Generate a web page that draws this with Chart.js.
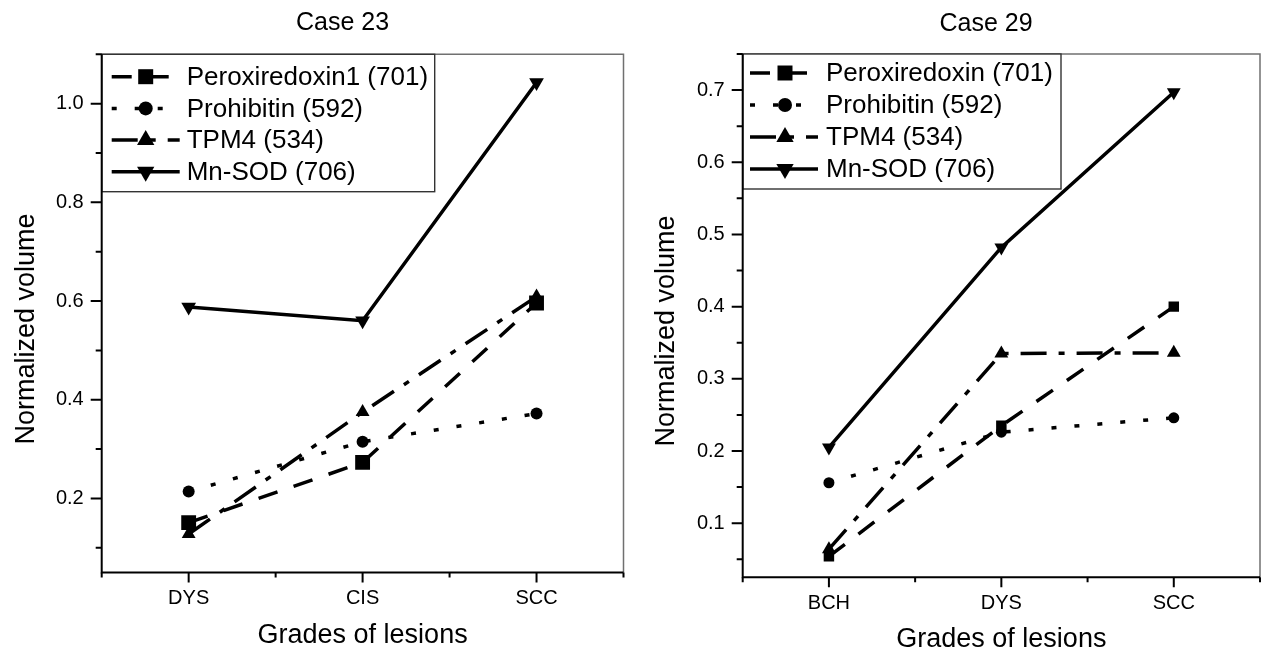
<!DOCTYPE html>
<html>
<head>
<meta charset="utf-8">
<script src="https://cdn.jsdelivr.net/npm/chart.js@4.4.0/dist/chart.umd.min.js"></script>
<style>
    html, body { margin: 0; padding: 0; background: #fff; overflow: hidden; }
    #wrap { position: relative; width: 1268px; height: 663px; }
    .panel { position: absolute; top: 0; width: 634px; height: 663px; }
    #left { left: 0; }
    #right { left: 634px; }
</style>
</head>
<body>
<div id="wrap">
    <div class="panel" id="left"><canvas id="case23"></canvas></div>
    <div class="panel" id="right"><canvas id="case29"></canvas></div>
</div>
<script>
var FONT = '"Liberation Sans", Arial, Helvetica, sans-serif';

// Case 23
var grades23 = ['DYS', 'CIS', 'SCC'];
var names23 = ['Peroxiredoxin1 (701)', 'Prohibitin (592)', 'TPM4 (534)', 'Mn-SOD (706)'];
var perox23 = [0.151, 0.273, 0.596];
var prohib23 = [0.214, 0.315, 0.372];
var tpm23 = [0.128, 0.375, 0.609];
var mnsod23 = [0.588, 0.560, 1.043];
var yMajor23 = [0.2, 0.4, 0.6, 0.8, 1.0];
var yMinor23 = [0.1, 0.3, 0.5, 0.7, 0.9, 1.1];

// Case 29
var grades29 = ['BCH', 'DYS', 'SCC'];
var names29 = ['Peroxiredoxin (701)', 'Prohibitin (592)', 'TPM4 (534)', 'Mn-SOD (706)'];
var perox29 = [0.054, 0.235, 0.400];
var prohib29 = [0.156, 0.226, 0.246];
var tpm29 = [0.064, 0.335, 0.336];
var mnsod29 = [0.205, 0.482, 0.697];
var yMajor29 = [0.1, 0.2, 0.3, 0.4, 0.5, 0.6, 0.7];
var yMinor29 = [0.05, 0.15, 0.25, 0.35, 0.45, 0.55, 0.65, 0.75];

// line / marker style per series (same order in both panels)
var seriesStyles = [
    { dash: [20, 17], point: 'rect', rotation: 0, legendRadius: 10.6 },
    { dash: [5, 18], point: 'circle', rotation: 0, legendRadius: 7 },
    { dash: [26, 12, 6, 12], point: 'triangle', rotation: 0, legendRadius: 10 },
    { dash: [], point: 'triangle', rotation: 180, legendRadius: 10 }
];
var LINE_W = 3.5;

function drawMarker(ctx, style, radius, x, y) {
    ctx.fillStyle = '#000';
    Chart.helpers.drawPoint(ctx, {
        pointStyle: style.point,
        rotation: style.rotation,
        radius: radius,
        borderWidth: 0
    }, x, y);
}

// frame, outward ticks, legend box and titles
var framePlugin = {
    id: 'frame',
    afterDraw: function(chart, args, opts) {
        var ctx = chart.ctx;
        var area = chart.chartArea;
        var xs = chart.scales.x;
        var ys = chart.scales.y;
        var i;

        ctx.save();

        // top and right frame lines (thin, grey)
        ctx.strokeStyle = '#707070';
        ctx.lineWidth = 1.5;
        ctx.setLineDash([]);
        ctx.beginPath();
        ctx.moveTo(area.left, area.top);
        ctx.lineTo(area.right, area.top);
        ctx.lineTo(area.right, area.bottom);
        ctx.stroke();

        // legend
        var lg = opts.legend;
        ctx.fillStyle = '#fff';
        ctx.fillRect(area.left, area.top, lg.width, lg.height);
        ctx.strokeStyle = '#333';
        ctx.lineWidth = 1.4;
        ctx.strokeRect(area.left, area.top, lg.width, lg.height);
        ctx.font = lg.fontSize + 'px ' + FONT;
        ctx.textBaseline = 'middle';
        ctx.textAlign = 'left';
        for (i = 0; i < opts.names.length; i++) {
            var st = seriesStyles[i];
            var ry = area.top + lg.row0 + i * lg.rowGap;
            ctx.strokeStyle = '#000';
            ctx.lineWidth = LINE_W;
            ctx.setLineDash(st.dash);
            ctx.beginPath();
            ctx.moveTo(area.left + lg.line0, ry);
            ctx.lineTo(area.left + lg.line1, ry);
            ctx.stroke();
            ctx.setLineDash([]);
            drawMarker(ctx, st, st.legendRadius, area.left + lg.mark, ry);
            ctx.fillStyle = '#000';
            ctx.fillText(opts.names[i], area.left + lg.text, ry + 1);
        }

        // left and bottom axes
        ctx.strokeStyle = '#000';
        ctx.lineWidth = 2;
        ctx.beginPath();
        ctx.moveTo(area.left, area.top);
        ctx.lineTo(area.left, area.bottom);
        ctx.lineTo(area.right, area.bottom);
        ctx.stroke();

        // y ticks, pointing out
        ctx.beginPath();
        opts.yMajor.forEach(function(v) {
            var py = ys.getPixelForValue(v);
            ctx.moveTo(area.left - 11, py);
            ctx.lineTo(area.left, py);
        });
        opts.yMinor.forEach(function(v) {
            var py = ys.getPixelForValue(v);
            ctx.moveTo(area.left - 6, py);
            ctx.lineTo(area.left, py);
        });
        // x ticks, pointing down
        var n = chart.data.labels.length;
        for (i = 0; i < n; i++) {
            var px = xs.getPixelForValue(i);
            ctx.moveTo(px, area.bottom);
            ctx.lineTo(px, area.bottom + 10);
        }
        for (i = 0; i <= n; i++) {
            var mx = xs.getPixelForValue(i - 0.5);
            ctx.moveTo(mx, area.bottom);
            ctx.lineTo(mx, area.bottom + 5);
        }
        ctx.stroke();

        // chart title
        ctx.fillStyle = '#000';
        ctx.textAlign = 'center';
        ctx.textBaseline = 'middle';
        ctx.font = '25px ' + FONT;
        ctx.fillText(opts.title, opts.titleX, opts.titleY);

        // y axis title
        ctx.font = '27px ' + FONT;
        ctx.translate(opts.yTitleX, opts.yTitleY);
        ctx.rotate(-Math.PI / 2);
        ctx.fillText('Normalized volume', 0, 0);

        ctx.restore();
    }
};

function buildDatasets(names, series, sizes) {
    return series.map(function(values, i) {
        var st = seriesStyles[i];
        return {
            label: names[i],
            data: values,
            borderColor: '#000',
            backgroundColor: '#000',
            borderWidth: LINE_W,
            borderDash: st.dash,
            pointStyle: st.point,
            pointRotation: st.rotation,
            pointRadius: sizes[i],
            pointBorderWidth: 0,
            pointBackgroundColor: '#000',
            fill: false,
            tension: 0
        };
    });
}

function makeChart(canvasId, cfg) {
    var canvas = document.getElementById(canvasId);
    return new Chart(canvas.getContext('2d'), {
        type: 'line',
        data: {
            labels: cfg.grades,
            datasets: buildDatasets(cfg.names, cfg.series, cfg.sizes)
        },
        plugins: [framePlugin],
        options: {
            responsive: true,
            maintainAspectRatio: false,
            animation: false,
            events: [],
            layout: {
                padding: { top: cfg.top, right: cfg.right, bottom: 0, left: 0 }
            },
            plugins: {
                legend: { display: false },
                title: { display: false },
                tooltip: { enabled: false },
                frame: {
                    title: cfg.title,
                    titleX: cfg.titleX,
                    titleY: cfg.titleY,
                    yTitleX: cfg.yTitleX,
                    yTitleY: cfg.yTitleY,
                    names: cfg.names,
                    yMajor: cfg.yMajor,
                    yMinor: cfg.yMinor,
                    legend: cfg.legend
                }
            },
            scales: {
                x: {
                    type: 'category',
                    offset: true,
                    grid: { display: false, drawTicks: false },
                    border: { display: false },
                    ticks: {
                        color: '#000',
                        padding: 14,
                        font: { family: FONT, size: 20 }
                    },
                    title: {
                        display: true,
                        text: 'Grades of lesions',
                        color: '#000',
                        font: { family: FONT, size: 27 },
                        padding: { top: 0, bottom: cfg.xTitlePad }
                    },
                    afterFit: function(scale) { scale.height = cfg.xHeight; }
                },
                y: {
                    type: 'linear',
                    min: cfg.yMin,
                    max: cfg.yMax,
                    grid: { display: false, drawTicks: false },
                    border: { display: false },
                    ticks: {
                        color: '#000',
                        padding: 18,
                        font: { family: FONT, size: 20 },
                        callback: function(v) { return Number(v).toFixed(1); }
                    },
                    afterBuildTicks: function(scale) {
                        scale.ticks = cfg.yMajor.map(function(v) { return { value: v }; });
                    },
                    afterFit: function(scale) { scale.width = cfg.yWidth; }
                }
            }
        }
    });
}

makeChart('case23', {
    grades: grades23,
    names: names23,
    series: [perox23, prohib23, tpm23, mnsod23],
    sizes: [10.5, 6, 8, 8.5],
    yMajor: yMajor23,
    yMinor: yMinor23,
    yMin: 0.05,
    yMax: 1.1,
    top: 54.3,
    right: 9,
    yWidth: 101.7,
    xHeight: 90.5,
    xTitlePad: 11.3,
    title: 'Case 23',
    titleX: 342.5,
    titleY: 23,
    yTitleX: 27,
    yTitleY: 329,
    legend: { width: 333, height: 137.4, row0: 22.4, rowGap: 31.7, line0: 10, line1: 78, mark: 44, text: 85, fontSize: 26 }
});

makeChart('case29', {
    grades: grades29,
    names: names29,
    series: [perox29, prohib29, tpm29, mnsod29],
    sizes: [7.4, 5.5, 8, 8],
    yMajor: yMajor29,
    yMinor: yMinor29,
    yMin: 0.025,
    yMax: 0.75,
    top: 54,
    right: 5,
    yWidth: 108.7,
    xHeight: 85.7,
    xTitlePad: 6.8,
    title: 'Case 29',
    titleX: 352,
    titleY: 24,
    yTitleX: 33,
    yTitleY: 331,
    legend: { width: 318.3, height: 135, row0: 19, rowGap: 32, line0: 7.3, line1: 75.3, mark: 42.3, text: 83.3, fontSize: 26 }
});
</script>
</body>
</html>
